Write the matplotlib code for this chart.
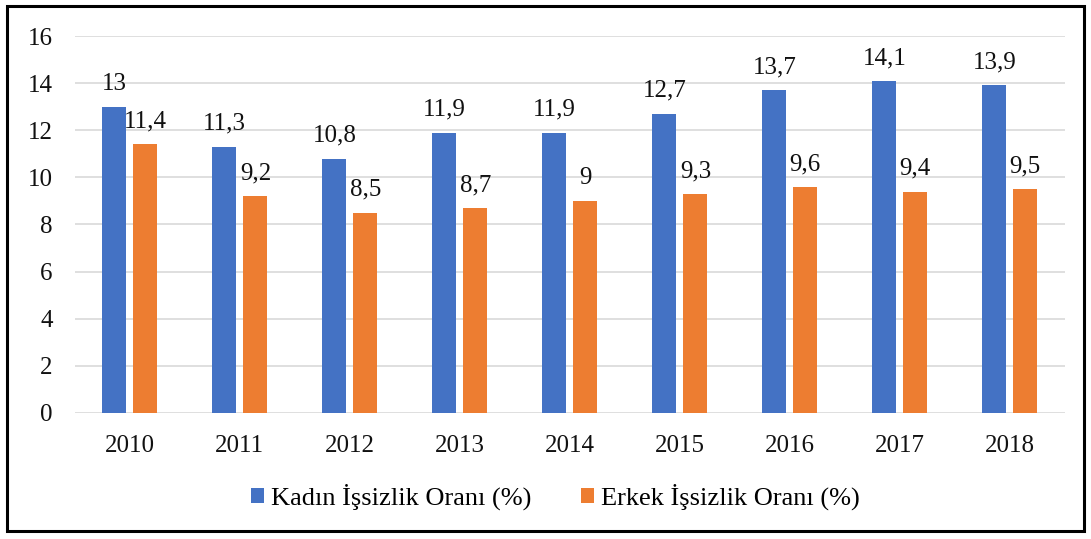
# Kadın ve erkek işsizlik oranları 2010-2018, Excel tarzı sütun grafik
import numpy as np
import matplotlib.pyplot as plt
from matplotlib.patches import Rectangle

years = ['2010', '2011', '2012', '2013', '2014', '2015', '2016', '2017', '2018']
kadin = [13, 11.3, 10.8, 11.9, 11.9, 12.7, 13.7, 14.1, 13.9]
erkek = [11.4, 9.2, 8.5, 8.7, 9, 9.3, 9.6, 9.4, 9.5]
kadin_label = 'Kadın İşsizlik Oranı (%)'
erkek_label = 'Erkek İşsizlik Oranı (%)'

plt.rcParams['font.family'] = ['Liberation Serif', 'DejaVu Serif']

fig = plt.figure(figsize=(10.91, 5.39), dpi=100)
ax = fig.add_axes([0.0687, 0.2338, 0.9073, 0.6994])

x = np.arange(len(years))
w = 0.218
off = 0.141
b1 = ax.bar(x - off, kadin, w, color='#4472C4', label=kadin_label, zorder=3)
b2 = ax.bar(x + off, erkek, w, color='#ED7D31', label=erkek_label, zorder=3)

def fmt(v):
    return ('%g' % v).replace('.', ',')

for bars, vals in ((b1, kadin), (b2, erkek)):
    for r, v in zip(bars, vals):
        ax.annotate(fmt(v), (r.get_x() + r.get_width() / 2, v),
                    xytext=(0, 8.5), textcoords='offset points',
                    ha='center', va='bottom', fontsize=18, color='#111111')

ax.set_xlim(-0.5, len(years) - 0.5)
ax.set_ylim(0, 16)
ax.set_yticks(range(0, 17, 2))
ax.set_xticks(x)
ax.set_xticklabels(years)
ax.tick_params(axis='both', length=0, labelsize=18, colors='#111111')
ax.tick_params(axis='y', pad=16)
ax.tick_params(axis='x', pad=16)
ax.grid(axis='y', color='#D9D9D9', linewidth=1.2, zorder=0)
for s in ax.spines.values():
    s.set_visible(False)

fig.legend(handles=[b1, b2], loc='center', bbox_to_anchor=(0.509, 0.078),
           ncol=2, frameon=False, fontsize=19, handlelength=0.5,
           handleheight=0.5, handletextpad=0.25, columnspacing=1.9)

fig.patches.append(Rectangle((7 / 1091, 1 - 531 / 539), 1077 / 1091, 525 / 539,
                             transform=fig.transFigure, fill=False,
                             edgecolor='black', linewidth=2.2))

fig.savefig('out.png', dpi=100)
